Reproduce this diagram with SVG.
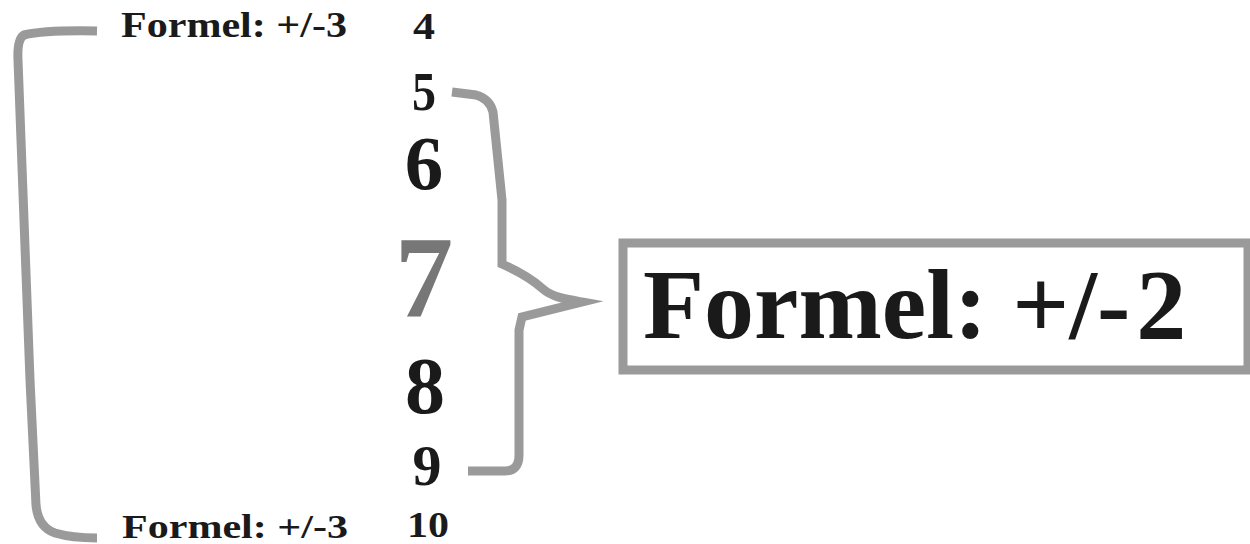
<svg xmlns="http://www.w3.org/2000/svg" width="1250" height="544" viewBox="0 0 1250 544">
<style>
text{font-family:'Liberation Serif','Times New Roman',Tinos,Times,serif;font-weight:700;fill:#1a1a1a}
.n{text-anchor:middle}
.br{fill:none;stroke:#9a9a9a;stroke-width:9;stroke-linecap:butt;stroke-linejoin:round}
</style>
<rect width="1250" height="544" fill="#ffffff"/>
<g id="connectors">
<path class="br" d="M97 31 Q45 30 24 35 Q17 39 18 60 L30 380 L36 505 Q38 527 55 533 Q72 538 97 538"/>
<path class="br" style="stroke-linejoin:miter;stroke-miterlimit:20" d="M452 92 L476 95 Q490 99 493 112 L502 200 L502 264 C520 272 533 280 543 289 C552 297 565 299 582 302 L522 317 L519 330 L519 455 Q519 471 505 471 L468 471"/>
</g>
<g id="label-top"><text x="121" y="37" font-size="35" textLength="226" lengthAdjust="spacingAndGlyphs">Formel: +/-3</text></g>
<g id="label-bottom"><text x="122" y="538" font-size="34" textLength="226" lengthAdjust="spacingAndGlyphs">Formel: +/-3</text></g>
<g id="n4"><text class="n" x="424" y="39" font-size="37" textLength="22" lengthAdjust="spacingAndGlyphs">4</text></g>
<g id="n5"><text class="n" x="424" y="110" font-size="55" textLength="24" lengthAdjust="spacingAndGlyphs">5</text></g>
<g id="n6"><text class="n" x="424" y="189" font-size="77">6</text></g>
<g id="n7"><text class="n" x="424" y="317" font-size="117" style="fill:#777777">7</text></g>
<g id="n8"><text class="n" x="425" y="413" font-size="80">8</text></g>
<g id="n9"><text class="n" x="427" y="485" font-size="58">9</text></g>
<g id="n10"><text class="n" x="428" y="537" font-size="36" textLength="42" lengthAdjust="spacingAndGlyphs">10</text></g>
<g id="box">
<rect x="623" y="243" width="625" height="127" fill="none" stroke="#9a9a9a" stroke-width="9"/>
<text x="643" y="338" font-size="100">Formel: +/-<tspan dx="6">2</tspan></text>
</g>
</svg>
